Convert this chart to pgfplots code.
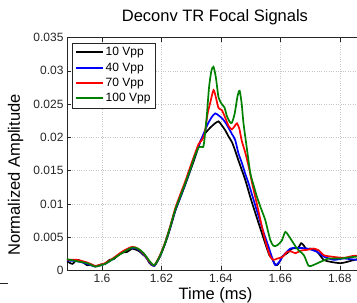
\documentclass[border=0pt]{standalone}
\usepackage{pgfplots}
\pgfplotsset{compat=1.18}
\usepackage{fontspec}
\setmainfont{Liberation Sans}
\definecolor{mgreen}{rgb}{0,0.5,0}
\definecolor{axgray}{rgb}{0.15,0.15,0.15}
\begin{document}
\begin{tikzpicture}
\useasboundingbox (-67pt,-32.5pt) rectangle (290pt,270.5pt);
\clip (-67pt,-32.5pt) rectangle (290pt,270.5pt);
\begin{axis}[
  scale only axis,
  width=302.5pt, height=233pt,
  xmin=1.5882, xmax=1.69,
  ymin=0, ymax=0.035,
  xtick={1.6,1.62,1.64,1.66,1.68},
  xticklabels={1.6,1.62,1.64,1.66,1.68},
  ytick={0,0.005,0.01,0.015,0.02,0.025,0.03,0.035},
  yticklabels={0,0.005,0.01,0.015,0.02,0.025,0.03,0.035},
  scaled ticks=false,
  tick align=inside,
  major tick length=4pt,
  xtick pos=both, ytick pos=both,
  ticklabel style={font=\fontsize{12}{14}\selectfont, text=axgray},
  axis line style={axgray, line width=0.6pt},
  every tick/.style={axgray, line width=0.5pt},
  grid=major,
  grid style={gray!45, dotted, line width=0.4pt},
  title={Deconv TR Focal Signals},
  title style={at={(axis description cs:0.489,1)}, anchor=base, yshift=10.5pt, font=\fontsize{16.5}{19}\selectfont},
  xlabel={Time (ms)},
  xlabel style={at={(axis description cs:0.491,0)}, anchor=base, yshift=-29pt, font=\fontsize{16.5}{19}\selectfont},
  ylabel={Normalized Amplitude},
  ylabel style={at={(axis description cs:-0.1554,0.41)}, anchor=base, font=\fontsize{16.5}{19}\selectfont},
  legend style={at={(axis description cs:0.0165,0.9785)}, anchor=north west,
    font=\fontsize{12}{14}\selectfont, draw=axgray, line width=0.5pt,
    inner sep=2.5pt, row sep=1.5pt},
  legend cell align=left,
  legend image code/.code={\draw[#1, line width=2pt] (0pt,0pt) -- (27pt,0pt);},
]
\addplot[black, line width=1.7pt, smooth, tension=0.4] coordinates {
(1.5882,0.00140)(1.5900,0.00100)(1.5915,0.00160)(1.5930,0.00140)(1.5950,0.00080)
(1.5965,0.00090)(1.5977,0.00060)(1.5995,0.00090)(1.6010,0.00100)(1.6025,0.00160)
(1.6039,0.00170)(1.6055,0.00230)(1.6070,0.00270)(1.6085,0.00280)(1.6101,0.00330)
(1.6110,0.00320)(1.6125,0.00290)(1.6140,0.00230)(1.6150,0.00200)(1.6160,0.00110)
(1.6176,0.00070)(1.6195,0.00210)(1.6212,0.00400)(1.6229,0.00630)(1.6246,0.00890)
(1.6263,0.01090)(1.6280,0.01290)(1.6297,0.01500)(1.6313,0.01700)(1.6330,0.01930)
(1.6347,0.02060)(1.6365,0.02150)(1.6380,0.02210)(1.6392,0.02240)(1.6403,0.02180)
(1.6414,0.02110)(1.6426,0.02010)(1.6437,0.01930)(1.6448,0.01800)(1.6460,0.01640)
(1.6482,0.01360)(1.6499,0.01100)(1.6516,0.00860)(1.6532,0.00640)(1.6549,0.00410)
(1.6563,0.00230)(1.6572,0.00180)(1.6581,0.00100)(1.6589,0.00080)(1.6600,0.00150)
(1.6606,0.00210)(1.6623,0.00260)(1.6640,0.00330)(1.6660,0.00340)(1.6670,0.00410)
(1.6678,0.00380)(1.6688,0.00320)(1.6701,0.00330)(1.6724,0.00280)(1.6746,0.00160)
(1.6769,0.00130)(1.6802,0.00110)(1.6825,0.00130)(1.6859,0.00170)(1.6900,0.00180)
};
\addlegendentry{10 Vpp}
\addplot[blue, line width=1.7pt, smooth, tension=0.4] coordinates {
(1.5882,0.00150)(1.5915,0.00140)(1.5950,0.00100)(1.5977,0.00060)(1.6010,0.00100)
(1.6039,0.00180)(1.6070,0.00280)(1.6101,0.00340)(1.6120,0.00320)(1.6140,0.00240)
(1.6160,0.00120)(1.6176,0.00070)(1.6195,0.00220)(1.6212,0.00410)(1.6229,0.00640)
(1.6246,0.00900)(1.6263,0.01100)(1.6280,0.01300)(1.6297,0.01520)(1.6313,0.01730)
(1.6330,0.01930)(1.6347,0.02110)(1.6358,0.02220)(1.6370,0.02310)(1.6381,0.02360)
(1.6392,0.02330)(1.6403,0.02290)(1.6414,0.02230)(1.6426,0.02140)(1.6437,0.02050)
(1.6448,0.01960)(1.6459,0.01760)(1.6471,0.01610)(1.6482,0.01450)(1.6493,0.01310)
(1.6510,0.01060)(1.6527,0.00810)(1.6543,0.00580)(1.6560,0.00360)(1.6574,0.00170)
(1.6583,0.00080)(1.6595,0.00120)(1.6611,0.00230)(1.6634,0.00330)(1.6656,0.00340)
(1.6690,0.00330)(1.6724,0.00280)(1.6746,0.00210)(1.6780,0.00160)(1.6813,0.00180)
(1.6859,0.00160)(1.6900,0.00160)
};
\addlegendentry{40 Vpp}
\addplot[red, line width=1.7pt, smooth, tension=0.4] coordinates {
(1.5882,0.00160)(1.5915,0.00160)(1.5950,0.00120)(1.5977,0.00070)(1.6010,0.00110)
(1.6039,0.00190)(1.6070,0.00290)(1.6101,0.00355)(1.6120,0.00330)(1.6140,0.00250)
(1.6160,0.00130)(1.6176,0.00080)(1.6195,0.00230)(1.6212,0.00420)(1.6229,0.00660)
(1.6246,0.00930)(1.6263,0.01140)(1.6280,0.01340)(1.6297,0.01560)(1.6313,0.01760)
(1.6325,0.01900)(1.6336,0.01960)(1.6345,0.02050)(1.6355,0.02350)(1.6364,0.02520)
(1.6375,0.02710)(1.6383,0.02600)(1.6392,0.02440)(1.6403,0.02410)(1.6414,0.02300)
(1.6426,0.02170)(1.6437,0.02120)(1.6448,0.02180)(1.6454,0.02210)(1.6462,0.02130)
(1.6470,0.01950)(1.6482,0.01770)(1.6495,0.01530)(1.6505,0.01310)(1.6521,0.01000)
(1.6538,0.00660)(1.6552,0.00400)(1.6566,0.00210)(1.6577,0.00160)(1.6590,0.00180)
(1.6606,0.00200)(1.6623,0.00280)(1.6634,0.00290)(1.6651,0.00260)(1.6670,0.00300)
(1.6690,0.00310)(1.6712,0.00330)(1.6730,0.00300)(1.6746,0.00230)(1.6769,0.00210)
(1.6813,0.00190)(1.6847,0.00220)(1.6900,0.00220)
};
\addlegendentry{70 Vpp}
\addplot[mgreen, line width=1.7pt, smooth, tension=0.4] coordinates {
(1.5882,0.00170)(1.5915,0.00140)(1.5950,0.00110)(1.5977,0.00060)(1.6010,0.00100)
(1.6039,0.00180)(1.6070,0.00270)(1.6101,0.00345)(1.6120,0.00330)(1.6140,0.00260)
(1.6160,0.00140)(1.6176,0.00080)(1.6195,0.00220)(1.6212,0.00410)(1.6229,0.00650)
(1.6246,0.00910)(1.6263,0.01110)(1.6280,0.01310)(1.6297,0.01520)(1.6313,0.01730)
(1.6325,0.01850)(1.6334,0.01860)(1.6342,0.01880)(1.6352,0.02300)(1.6360,0.02750)
(1.6368,0.03000)(1.6375,0.03060)(1.6383,0.02900)(1.6392,0.02600)(1.6403,0.02500)
(1.6412,0.02450)(1.6420,0.02320)(1.6430,0.02230)(1.6437,0.02220)(1.6446,0.02350)
(1.6456,0.02620)(1.6463,0.02700)(1.6470,0.02500)(1.6476,0.02210)(1.6488,0.01810)
(1.6499,0.01460)(1.6510,0.01280)(1.6521,0.01110)(1.6535,0.00930)(1.6549,0.00760)
(1.6566,0.00460)(1.6577,0.00370)(1.6590,0.00380)(1.6605,0.00450)(1.6617,0.00580)
(1.6634,0.00480)(1.6656,0.00330)(1.6679,0.00230)(1.6695,0.00070)(1.6710,0.00080)
(1.6735,0.00130)(1.6763,0.00180)(1.6802,0.00180)(1.6859,0.00210)(1.6900,0.00210)
};
\addlegendentry{100 Vpp}
\end{axis}
\draw[axgray, line width=0.6pt] (-67pt,-12.5pt) -- (-59pt,-12.5pt);
\end{tikzpicture}
\end{document}
